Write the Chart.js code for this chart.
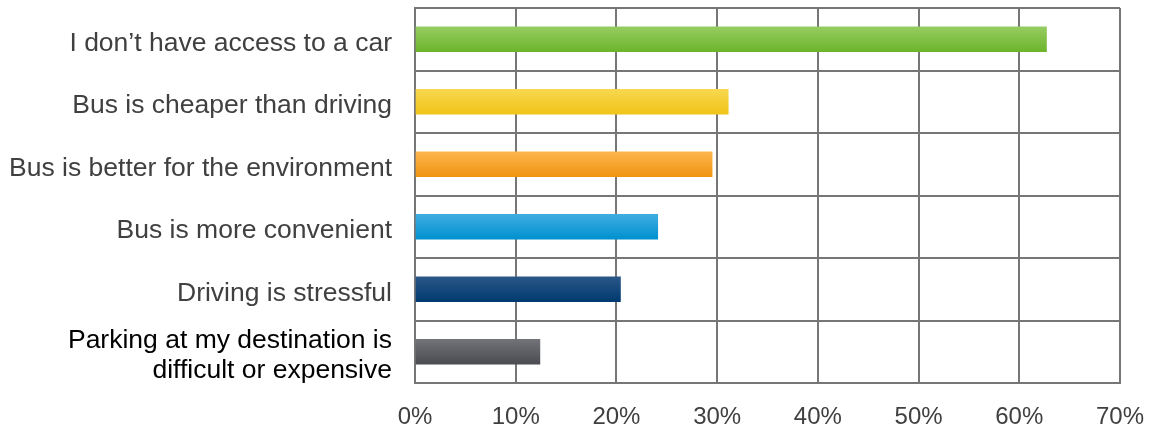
<!DOCTYPE html>
<html lang="en">
<head>
    <meta charset="UTF-8">
    <title>Reasons for taking the bus</title>
    <script src="https://cdn.jsdelivr.net/npm/chart.js@4.4.0/dist/chart.umd.min.js"></script>
    <style>
        * { margin: 0; padding: 0; box-sizing: border-box; }
        body { background: #fff; }
        .wrap { width: 1151px; height: 425px; position: relative; }
    </style>
</head>
<body>
    <div class="wrap">
        <canvas id="busChart"></canvas>
    </div>

    <script>
        const categories = [
            'I don\u2019t have access to a car',
            'Bus is cheaper than driving',
            'Bus is better for the environment',
            'Bus is more convenient',
            'Driving is stressful',
            ['Parking at my destination is', 'difficult or expensive']
        ];
        const shares = [62.7, 31.1, 29.5, 24.1, 20.4, 12.4];
        const tickValues = [0, 10, 20, 30, 40, 50, 60, 70];

        // top -> bottom gradient stops for every bar
        const gradTop = ['#96cd62', '#f8d850', '#fdb54e', '#3fade0', '#2b5688', '#717378'];
        const gradBottom = ['#6cb42a', '#f1c317', '#ef9410', '#0090d0', '#003a70', '#4a4c51'];

        const BAR_H = 25;

        function barGradient(context) {
            const chart = context.chart;
            const yScale = chart.scales.y;
            if (!chart.chartArea || !yScale) return gradBottom[context.dataIndex];
            const yc = yScale.getPixelForValue(context.dataIndex);
            const g = chart.ctx.createLinearGradient(0, yc - BAR_H / 2, 0, yc + BAR_H / 2);
            g.addColorStop(0, gradTop[context.dataIndex]);
            g.addColorStop(1, gradBottom[context.dataIndex]);
            return g;
        }

        new Chart(document.getElementById('busChart'), {
            type: 'bar',
            data: {
                labels: categories,
                datasets: [{
                    data: shares,
                    backgroundColor: barGradient,
                    borderWidth: 0,
                    barThickness: BAR_H
                }]
            },
            options: {
                indexAxis: 'y',
                responsive: true,
                maintainAspectRatio: false,
                animation: false,
                layout: { padding: { top: 8, right: 31, left: 0, bottom: 0 } },
                plugins: {
                    legend: { display: false },
                    tooltip: { enabled: false }
                },
                scales: {
                    x: {
                        min: 0,
                        max: 70,
                        afterBuildTicks: s => { s.ticks = tickValues.map(v => ({ value: v })); },
                        afterFit: s => { s.height = 42; s.paddingLeft = 0; s.paddingRight = 0; },
                        grid: { color: '#767676', lineWidth: 2, drawTicks: false },
                        border: { color: '#767676', width: 2 },
                        ticks: {
                            padding: 20,
                            color: '#404040',
                            font: { family: 'Liberation Sans, Arial, sans-serif', size: 24 },
                            callback: v => v + '%'
                        }
                    },
                    y: {
                        afterFit: s => { s.width = 415; s.paddingTop = 0; s.paddingBottom = 0; },
                        grid: { color: '#767676', lineWidth: 2, drawTicks: false },
                        border: { color: '#767676', width: 2 },
                        ticks: {
                            autoSkip: false,
                            padding: 23,
                            labelOffset: 4,
                            color: ctx => ctx.index === 5 ? '#000000' : '#404040',
                            font: { family: 'Liberation Sans, Arial, sans-serif', size: 26.5, lineHeight: 1.15 }
                        }
                    }
                }
            }
        });
    </script>
</body>
</html>
